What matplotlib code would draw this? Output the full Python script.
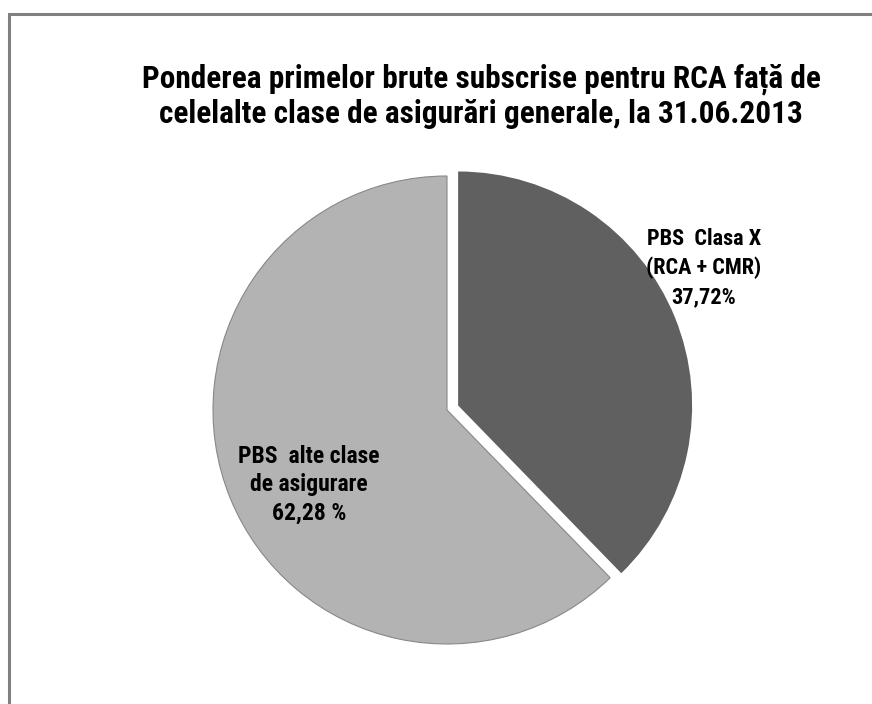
import matplotlib
matplotlib.use("Agg")
import matplotlib.pyplot as plt
from matplotlib import font_manager as fm

labels = ["PBS  Clasa X\n(RCA + CMR)\n37,72%", "PBS  alte clase\nde asigurare\n62,28 %"]
values = [37.72, 62.28]
colors = ["#606060", "#b3b3b3"]
title = "Ponderea primelor brute subscrise pentru RCA față de\ncelelalte clase de asigurări generale, la 31.06.2013"

bold_fonts = {f.name for f in fm.fontManager.ttflist
              if (isinstance(f.weight, int) and f.weight >= 600)
              or f.weight in ("bold", "semibold", "demibold", "heavy", "black")}
prefs = ["Liberation Sans Narrow", "Arial Narrow", "Roboto Condensed",
         "Barlow Semi Condensed", "Fira Sans Condensed", "DejaVu Sans"]
font = next((p for p in prefs if p in bold_fonts), "DejaVu Sans")

W, H = 872, 704
fig = plt.figure(figsize=(W / 100, H / 100), dpi=100)
ax = fig.add_axes([0, 0, 1, 1])

wedges, texts = ax.pie(values, colors=colors, startangle=90, counterclock=False,
                       explode=[12, 0], center=(447, H - 410), radius=234,
                       frame=True)
wedges[1].set_edgecolor("#888888")
wedges[1].set_linewidth(0.8)
ax.set_xlim(0, W)
ax.set_ylim(0, H)
ax.set_aspect("equal")
ax.axis("off")

tp = dict(family=[font, "DejaVu Sans"], fontweight="bold", color="black")
fig.text(481 / W, 1 - 96 / H, title, ha="center", va="center", fontsize=22.5,
         linespacing=1.15, **tp)
ax.text(704, H - 268, labels[0], ha="center", va="center", fontsize=16,
        linespacing=1.38, **tp)
ax.text(309, H - 485, labels[1], ha="center", va="center", fontsize=17,
        linespacing=1.28, **tp)

# border (left and top)
ax.plot([8.5, 8.5, W], [0, H - 13.5, H - 13.5], color="#808080", lw=2.2,
        solid_joinstyle="miter", clip_on=False)
fig.savefig("out.png", dpi=100)
